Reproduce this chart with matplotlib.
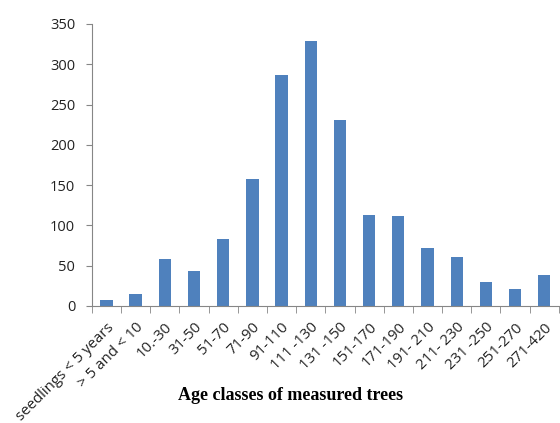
import numpy as np
import matplotlib.pyplot as plt

# age classes and number of trees
classes = ["seedlings < 5 years", "> 5 and < 10", "10.-30", "31-50", "51-70", "71-90",
           "91-110", "111 -130", "131 -150", "151-170", "171-190", "191- 210",
           "211- 230", "231 -250", "251-270", "271-420"]
counts = [7, 15, 58, 43, 83, 158, 287, 329, 231, 113, 112, 72, 61, 30, 21, 38]
yticks = [0, 50, 100, 150, 200, 250, 300, 350]

fig = plt.figure(figsize=(5.6, 4.23), dpi=100)
ax = fig.add_axes([0.164, 0.2766, 0.834, 0.6667])

x = np.arange(len(classes))
ax.bar(x, counts, width=0.42, color="#4F81BD")

ax.set_xlim(-0.5, len(classes) - 0.5)
ax.set_ylim(0, 350)
ax.set_yticks(yticks)
ax.set_yticklabels([str(v) for v in yticks], fontsize=10.5, color="#222222", family="Open Sans")
ax.set_xticks(x)
ax.set_xticklabels(classes, rotation=45, ha="right", rotation_mode="anchor",
                   fontsize=10.8, color="#222222", family="Open Sans")
ax.tick_params(axis="x", which="major", length=0, pad=10)
ax.set_xticks(np.arange(-0.5, len(classes)), minor=True)
ax.tick_params(axis="x", which="minor", length=5, color="#868686")
ax.tick_params(axis="y", length=4, color="#868686", pad=8)

for s in ["top", "right"]:
    ax.spines[s].set_visible(False)
for s in ["left", "bottom"]:
    ax.spines[s].set_color("#868686")
    ax.spines[s].set_linewidth(0.8)

fig.text(0.518, 0.066, "Age classes of measured trees", ha="center", va="center",
         fontsize=13, fontweight="bold", family="Liberation Serif")

fig.savefig("out.png", dpi=100)
